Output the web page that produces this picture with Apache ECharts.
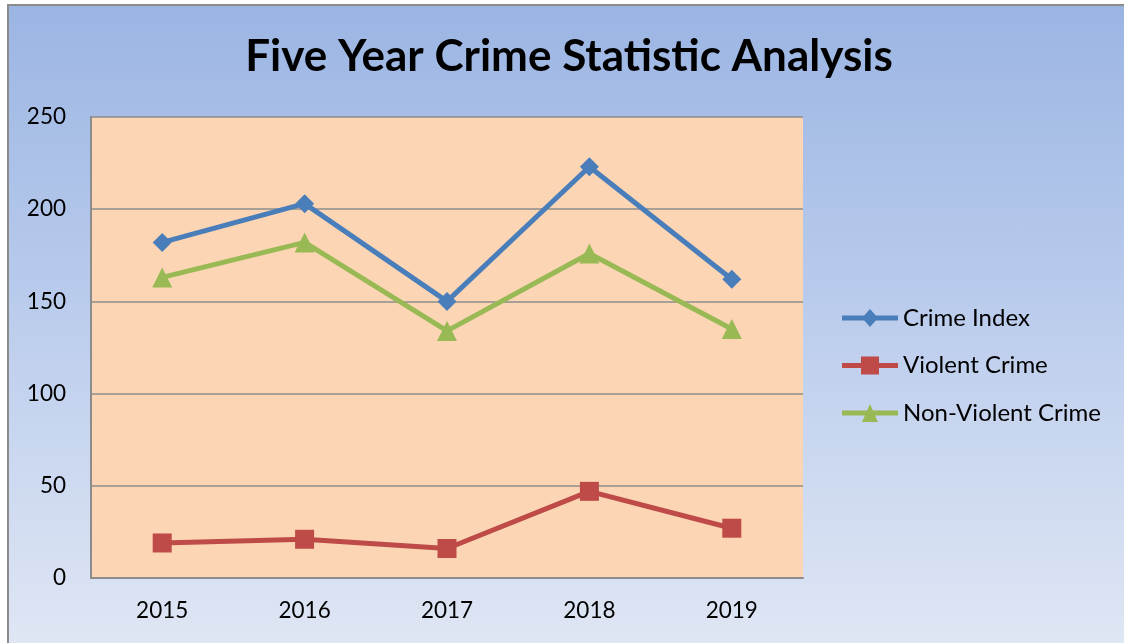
<!DOCTYPE html>
<html>
<head>
<meta charset="utf-8">
<script src="https://cdn.jsdelivr.net/npm/echarts@6/dist/echarts.min.js"></script>
<style>
html,body{margin:0;padding:0;background:#fff;width:1124px;height:643px;overflow:hidden;}
#frame{position:absolute;left:7px;top:4px;width:1117px;height:639px;box-sizing:border-box;border-left:2px solid #8c8c8c;border-top:2px solid #8c8c8c;background:linear-gradient(to bottom,#9bb5e3 0%,#b9cbec 45%,#dfe6f4 100%);}
#chart{position:absolute;left:0;top:0;width:1124px;height:643px;}
</style>
</head>
<body>
<div id="frame"></div>
<div id="chart"></div>
<script>
const titleText = 'Five Year Crime Statistic Analysis';
const years = ['2015', '2016', '2017', '2018', '2019'];
const crimeIndex = [182, 203, 150, 223, 162];
const violentCrime = [19, 21, 16, 47, 27];
const nonViolentCrime = [163, 182, 134, 176, 135];
const seriesNames = ['Crime Index', 'Violent Crime', 'Non-Violent Crime'];

const FONT = 'Lato, "Open Sans", sans-serif';
const chart = echarts.init(document.getElementById('chart'), null, {renderer: 'canvas'});

const ICON_DIAMOND = 'path://M0,6.5 L22.2,6.5 L28,0 L33.8,6.5 L56,6.5 L56,11.5 L33.8,11.5 L28,18 L22.2,11.5 L0,11.5 Z';
const ICON_SQUARE = 'path://M0,6.5 L19,6.5 L19,0 L37,0 L37,6.5 L56,6.5 L56,11.5 L37,11.5 L37,18 L19,18 L19,11.5 L0,11.5 Z';
const ICON_TRIANGLE = 'path://M0,6.5 L25.1,6.5 L28,0 L30.9,6.5 L56,6.5 L56,11.5 L33.1,11.5 L36,18 L20,18 L22.9,11.5 L0,11.5 Z';

function mk(name, data, color, symbol, size) {
  return {
    name: name, type: 'line', data: data,
    symbol: symbol, symbolSize: size,
    lineStyle: {color: color, width: 5},
    itemStyle: {color: color},
    animation: false
  };
}

chart.setOption({
  backgroundColor: 'transparent',
  title: {
    text: titleText, left: 564, top: 30, textAlign: 'center',
    textStyle: {fontFamily: FONT, fontWeight: 'bold', fontSize: 44, color: '#000'}
  },
  legend: {
    orient: 'vertical', left: 837, top: 301,
    itemWidth: 56, itemHeight: 18, itemGap: 23.5,
    textStyle: {fontFamily: FONT, fontSize: 24, color: '#000'},
    data: [
      {name: seriesNames[0], icon: ICON_DIAMOND},
      {name: seriesNames[1], icon: ICON_SQUARE},
      {name: seriesNames[2], icon: ICON_TRIANGLE}
    ]
  },
  grid: {
    left: 91, top: 117, width: 712, height: 461,
    show: true, backgroundColor: '#fcd5b4', borderWidth: 0
  },
  xAxis: {
    type: 'category', data: years, boundaryGap: true,
    axisLine: {show: true, lineStyle: {color: '#8c8c8c', width: 2}},
    axisTick: {show: false},
    axisLabel: {fontFamily: FONT, fontSize: 22.5, color: '#000', margin: 21}
  },
  yAxis: {
    type: 'value', min: 0, max: 250, interval: 50,
    axisLine: {show: true, lineStyle: {color: '#8c8c8c', width: 2}},
    axisTick: {show: false},
    splitLine: {lineStyle: {color: '#8c8c8c', width: 1.5}},
    axisLabel: {fontFamily: FONT, fontSize: 22.5, color: '#000', margin: 25}
  },
  series: [
    mk(seriesNames[0], crimeIndex, '#4a7ebb', 'diamond', 19),
    mk(seriesNames[1], violentCrime, '#be4b48', 'rect', 19),
    mk(seriesNames[2], nonViolentCrime, '#98b954', 'triangle', 20)
  ]
});
</script>
</body>
</html>
